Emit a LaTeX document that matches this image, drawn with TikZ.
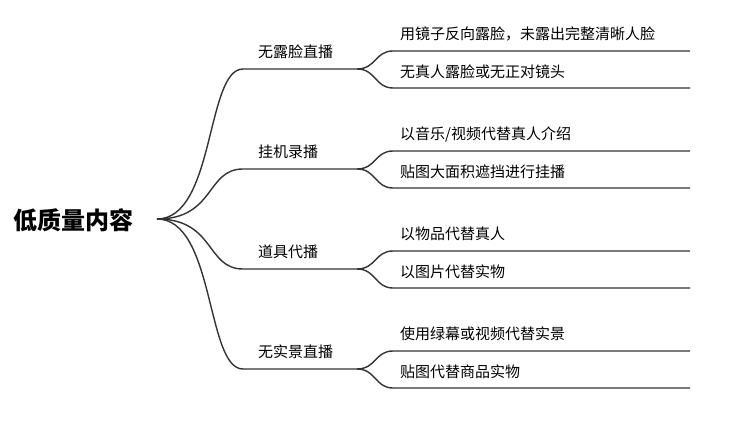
\documentclass[tikz,border=0pt]{standalone}
\usepackage{fontspec}
\newfontfamily\cjk{Noto Sans CJK SC}
\usetikzlibrary{positioning}

\begin{document}
\begin{tikzpicture}
    [
      x=1pt, y=-1pt,
      root/.style={font=\cjk\bfseries\fontsize{24}{28}\selectfont,anchor=west,inner sep=0pt},
      branch/.style={font=\cjk\fontsize{15}{18}\selectfont,anchor=west,inner sep=0pt},
      leaf/.style={font=\cjk\fontsize{15}{18}\selectfont,anchor=west,inner sep=0pt},
      link/.style={draw=black!80,line width=1.4pt},
    ]
    \useasboundingbox (0,0) rectangle (738,425);

    \node (root) [root] at (13,220) {低质量内容};
    \coordinate (hub) at (157,219);

    % branches: text, then both ends of the underline
    \node (b-face) [branch] at (258,52) {无露脸直播};
    \coordinate (b-face-l) at (243,69);
    \coordinate (b-face-r) at (357,69);

    \node (b-idle) [branch] at (258,152) {挂机录播};
    \coordinate (b-idle-l) at (243,169);
    \coordinate (b-idle-r) at (357,169);

    \node (b-prop) [branch] at (258,252) {道具代播};
    \coordinate (b-prop-l) at (243,269);
    \coordinate (b-prop-r) at (357,269);

    \node (b-scene) [branch] at (258,352) {无实景直播};
    \coordinate (b-scene-l) at (243,369);
    \coordinate (b-scene-r) at (357,369);

    % leaves
    \node (l-mirror) [leaf] at (400,34) {用镜子反向露脸，未露出完整清晰人脸};
    \coordinate (l-mirror-l) at (393,51);
    \coordinate (l-mirror-r) at (690,51);
    \node (l-noface) [leaf] at (400,72) {无真人露脸或无正对镜头};
    \coordinate (l-noface-l) at (393,88);
    \coordinate (l-noface-r) at (690,88);

    \node (l-music) [leaf] at (400,134) {以音乐/视频代替真人介绍};
    \coordinate (l-music-l) at (393,151);
    \coordinate (l-music-r) at (690,151);
    \node (l-sticker) [leaf] at (400,172) {贴图大面积遮挡进行挂播};
    \coordinate (l-sticker-l) at (393,188);
    \coordinate (l-sticker-r) at (690,188);

    \node (l-object) [leaf] at (400,234) {以物品代替真人};
    \coordinate (l-object-l) at (393,251);
    \coordinate (l-object-r) at (690,251);
    \node (l-picture) [leaf] at (400,272) {以图片代替实物};
    \coordinate (l-picture-l) at (393,288);
    \coordinate (l-picture-r) at (690,288);

    \node (l-green) [leaf] at (400,334) {使用绿幕或视频代替实景};
    \coordinate (l-green-l) at (393,351);
    \coordinate (l-green-r) at (690,351);
    \node (l-goods) [leaf] at (400,372) {贴图代替商品实物};
    \coordinate (l-goods-l) at (393,388);
    \coordinate (l-goods-r) at (690,388);

    % root to branches
    \draw [link] (hub) .. controls +(58,0) and +(-37,0) .. (b-face-l) -- (b-face-r);
    \draw [link] (hub) .. controls +(58,0) and +(-37,0) .. (b-idle-l) -- (b-idle-r);
    \draw [link] (hub) .. controls +(58,0) and +(-37,0) .. (b-prop-l) -- (b-prop-r);
    \draw [link] (hub) .. controls +(58,0) and +(-37,0) .. (b-scene-l) -- (b-scene-r);

    % branches to leaves
    \draw [link] (b-face-r) .. controls +(19,0) and +(-18,0) .. (l-mirror-l) -- (l-mirror-r);
    \draw [link] (b-face-r) .. controls +(19,0) and +(-18,0) .. (l-noface-l) -- (l-noface-r);
    \draw [link] (b-idle-r) .. controls +(19,0) and +(-18,0) .. (l-music-l) -- (l-music-r);
    \draw [link] (b-idle-r) .. controls +(19,0) and +(-18,0) .. (l-sticker-l) -- (l-sticker-r);
    \draw [link] (b-prop-r) .. controls +(19,0) and +(-18,0) .. (l-object-l) -- (l-object-r);
    \draw [link] (b-prop-r) .. controls +(19,0) and +(-18,0) .. (l-picture-l) -- (l-picture-r);
    \draw [link] (b-scene-r) .. controls +(19,0) and +(-18,0) .. (l-green-l) -- (l-green-r);
    \draw [link] (b-scene-r) .. controls +(19,0) and +(-18,0) .. (l-goods-l) -- (l-goods-r);

  \end{tikzpicture}
\end{document}
